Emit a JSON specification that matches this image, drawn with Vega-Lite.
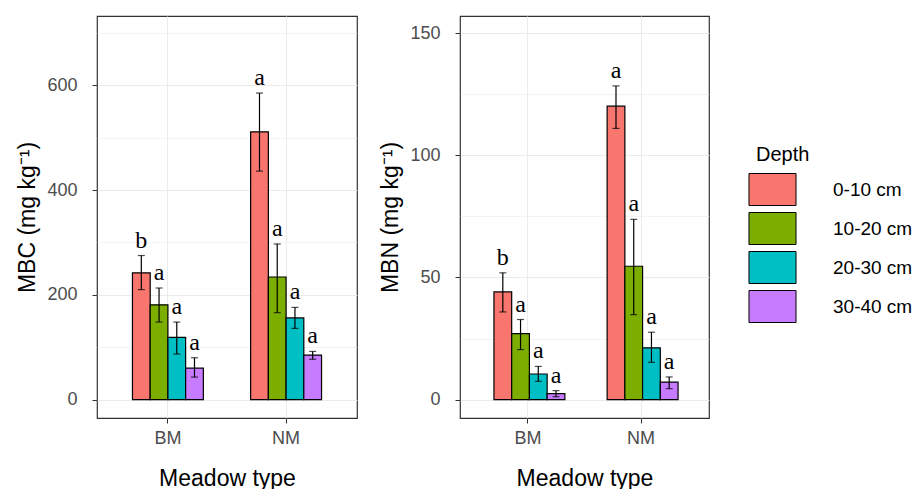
{
  "$schema": "https://vega.github.io/schema/vega-lite/v6.json",
  "padding": {"left": 15, "top": 15, "right": 0, "bottom": 0},
  "background": "white",
  "datasets": {
    "mbc": [
      {"type": "BM", "depth": "0-10 cm", "mean": 242, "lower": 210, "upper": 275, "label": "b"},
      {"type": "BM", "depth": "10-20 cm", "mean": 181, "lower": 148, "upper": 213, "label": "a"},
      {"type": "BM", "depth": "20-30 cm", "mean": 119, "lower": 87, "upper": 148, "label": "a"},
      {"type": "BM", "depth": "30-40 cm", "mean": 60, "lower": 43, "upper": 80, "label": "a"},
      {"type": "NM", "depth": "0-10 cm", "mean": 511, "lower": 436, "upper": 585, "label": "a"},
      {"type": "NM", "depth": "10-20 cm", "mean": 234, "lower": 166, "upper": 297, "label": "a"},
      {"type": "NM", "depth": "20-30 cm", "mean": 156, "lower": 136, "upper": 176, "label": "a"},
      {"type": "NM", "depth": "30-40 cm", "mean": 85, "lower": 77, "upper": 92, "label": "a"}
    ],
    "mbn": [
      {"type": "BM", "depth": "0-10 cm", "mean": 44.1, "lower": 35.9, "upper": 51.9, "label": "b"},
      {"type": "BM", "depth": "10-20 cm", "mean": 27.0, "lower": 20.5, "upper": 32.8, "label": "a"},
      {"type": "BM", "depth": "20-30 cm", "mean": 10.5, "lower": 7.5, "upper": 13.6, "label": "a"},
      {"type": "BM", "depth": "30-40 cm", "mean": 2.5, "lower": 1.2, "upper": 3.7, "label": "a"},
      {"type": "NM", "depth": "0-10 cm", "mean": 120.1, "lower": 111, "upper": 128.4, "label": "a"},
      {"type": "NM", "depth": "10-20 cm", "mean": 54.6, "lower": 34.8, "upper": 73.8, "label": "a"},
      {"type": "NM", "depth": "20-30 cm", "mean": 21.2, "lower": 15.3, "upper": 27.6, "label": "a"},
      {"type": "NM", "depth": "30-40 cm", "mean": 7.2, "lower": 4.5, "upper": 9.3, "label": "a"}
    ]
  },
  "config": {
    "view": {"stroke": "#333333", "strokeWidth": 1.2},
    "font": "Liberation Sans",
    "axis": {
      "domain": false,
      "labelFont": "Liberation Sans",
      "labelFontSize": 18,
      "labelColor": "#4D4D4D",
      "titleFont": "Liberation Sans",
      "titleFontSize": 23,
      "titleFontWeight": "normal",
      "titleColor": "black",
      "tickColor": "#333333",
      "tickSize": 5,
      "tickWidth": 1,
      "gridColor": "#EBEBEB"
    },
    "legend": {
      "orient": "none",
      "legendX": 659,
      "legendY": 129,
      "titleFont": "Liberation Sans",
      "titleFontSize": 20,
      "titleFontWeight": "normal",
      "titleColor": "black",
      "titlePadding": 8,
      "labelFont": "Liberation Sans",
      "labelFontSize": 19,
      "labelColor": "black",
      "symbolType": "M-1.47,-1H1.47V1H-1.47Z",
      "symbolSize": 1024,
      "symbolStrokeColor": "black",
      "symbolStrokeWidth": 1,
      "symbolOpacity": 1,
      "labelOffset": 44,
      "rowPadding": 2
    }
  },
  "spacing": 20,
  "resolve": {"scale": {"y": "independent", "x": "independent"}},
  "hconcat": [
    {
      "width": 260,
      "height": 402,
      "data": {"name": "mbc"},
      "encoding": {
        "x": {
          "field": "type", "type": "nominal",
          "scale": {"paddingInner": 0.4, "paddingOuter": 0.3},
          "axis": {"title": "Meadow type", "labelAngle": 0, "bandPosition": 0.5, "grid": true, "gridWidth": 1, "labelPadding": 6, "titlePadding": 20}
        },
        "xOffset": {"field": "depth", "type": "nominal", "sort": ["0-10 cm", "10-20 cm", "20-30 cm", "30-40 cm"], "scale": {"paddingInner": 0, "paddingOuter": 0}}
      },
      "layer": [
        {
          "mark": {"type": "bar", "stroke": "black", "strokeWidth": 1.2},
          "encoding": {
            "y": {
              "field": "mean", "type": "quantitative",
              "scale": {"domain": [-35, 732], "nice": false, "zero": false},
              "axis": {
                "title": "MBC (mg kg⁻¹)",
                "values": [0, 100, 200, 300, 400, 500, 600, 700],
                "labelExpr": "datum.value % 200 === 0 ? datum.label : ''",
                "tickOpacity": {"condition": {"test": "datum.value % 200 === 0", "value": 1}, "value": 0},
                "gridWidth": {"condition": {"test": "datum.value % 200 === 0", "value": 1.1}, "value": 0.6},
                "minExtent": 50, "maxExtent": 50, "labelPadding": 15, "titlePadding": 8
              }
            },
            "fill": {
              "field": "depth", "type": "nominal", "title": "Depth",
              "scale": {"domain": ["0-10 cm", "10-20 cm", "20-30 cm", "30-40 cm"], "range": ["#F8766D", "#7CAE00", "#00BFC4", "#C77CFF"]}
            }
          }
        },
        {
          "mark": {"type": "rule", "color": "black", "strokeWidth": 1.2},
          "encoding": {"y": {"field": "lower", "type": "quantitative"}, "y2": {"field": "upper"}}
        },
        {
          "mark": {"type": "tick", "color": "black", "size": 7, "thickness": 1.2, "orient": "horizontal"},
          "encoding": {"y": {"field": "upper", "type": "quantitative"}}
        },
        {
          "mark": {"type": "tick", "color": "black", "size": 7, "thickness": 1.2, "orient": "horizontal"},
          "encoding": {"y": {"field": "lower", "type": "quantitative"}}
        },
        {
          "mark": {"type": "text", "font": "Liberation Serif", "fontSize": 24, "baseline": "alphabetic", "dy": -8, "color": "black"},
          "encoding": {"y": {"field": "upper", "type": "quantitative"}, "text": {"field": "label"}}
        }
      ]
    },
    {
      "width": 249,
      "height": 402,
      "data": {"name": "mbn"},
      "encoding": {
        "x": {
          "field": "type", "type": "nominal",
          "scale": {"paddingInner": 0.4, "paddingOuter": 0.3},
          "axis": {"title": "Meadow type", "labelAngle": 0, "bandPosition": 0.5, "grid": true, "gridWidth": 1, "labelPadding": 6, "titlePadding": 20}
        },
        "xOffset": {"field": "depth", "type": "nominal", "sort": ["0-10 cm", "10-20 cm", "20-30 cm", "30-40 cm"], "scale": {"paddingInner": 0, "paddingOuter": 0}}
      },
      "layer": [
        {
          "mark": {"type": "bar", "stroke": "black", "strokeWidth": 1.2},
          "encoding": {
            "y": {
              "field": "mean", "type": "quantitative",
              "scale": {"domain": [-7.5, 157], "nice": false, "zero": false},
              "axis": {
                "title": "MBN (mg kg⁻¹)",
                "values": [0, 25, 50, 75, 100, 125, 150],
                "labelExpr": "datum.value % 50 === 0 ? datum.label : ''",
                "tickOpacity": {"condition": {"test": "datum.value % 50 === 0", "value": 1}, "value": 0},
                "gridWidth": {"condition": {"test": "datum.value % 50 === 0", "value": 1.1}, "value": 0.6},
                "minExtent": 50, "maxExtent": 50, "labelPadding": 15, "titlePadding": 8
              }
            },
            "fill": {
              "field": "depth", "type": "nominal", "title": "Depth",
              "scale": {"domain": ["0-10 cm", "10-20 cm", "20-30 cm", "30-40 cm"], "range": ["#F8766D", "#7CAE00", "#00BFC4", "#C77CFF"]}
            }
          }
        },
        {
          "mark": {"type": "rule", "color": "black", "strokeWidth": 1.2},
          "encoding": {"y": {"field": "lower", "type": "quantitative"}, "y2": {"field": "upper"}}
        },
        {
          "mark": {"type": "tick", "color": "black", "size": 7, "thickness": 1.2, "orient": "horizontal"},
          "encoding": {"y": {"field": "upper", "type": "quantitative"}}
        },
        {
          "mark": {"type": "tick", "color": "black", "size": 7, "thickness": 1.2, "orient": "horizontal"},
          "encoding": {"y": {"field": "lower", "type": "quantitative"}}
        },
        {
          "mark": {"type": "text", "font": "Liberation Serif", "fontSize": 24, "baseline": "alphabetic", "dy": -8, "color": "black"},
          "encoding": {"y": {"field": "upper", "type": "quantitative"}, "text": {"field": "label"}}
        }
      ]
    }
  ]
}
